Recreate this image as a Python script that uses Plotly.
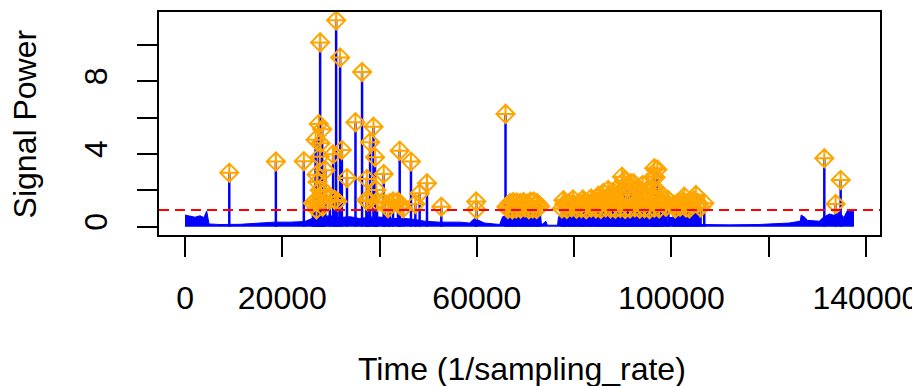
import plotly.graph_objects as go

# ---- baseline envelope of the signal (time, power) ----
base_t = [0, 1030, 2050, 3080, 3900, 4450, 4930, 7190, 11300, 15400, 18500, 21560, 24600,
          26100, 27700, 29800, 31800, 33900, 35900, 39000, 41060, 43100, 45200, 47200, 49300,
          52350, 56500, 58500, 59500, 61600, 63600, 64700, 65300, 68800, 73100, 73300, 74200,
          74500, 76600, 76800, 81100, 85200, 89300, 93400, 96500, 97100, 98300, 99200, 99600,
          102900, 105900, 106100, 111900, 118000, 124200, 126500, 126700, 127500, 127900,
          130400, 131200, 132500, 133700, 134500, 135500, 136100, 137550]
base_v = [0.64, 0.58, 0.52, 0.60, 0.50, 0.86, 0.15, 0.12, 0.13, 0.20, 0.25, 0.25, 0.28,
          0.45, 0.55, 0.60, 0.50, 0.55, 0.45, 0.55, 0.50, 0.45, 0.45, 0.40, 0.30,
          0.25, 0.25, 0.20, 0.45, 0.20, 0.15, 0.12, 0.55, 0.60, 0.50, 0.10, 0.30,
          0.08, 0.08, 0.55, 0.60, 0.65, 0.60, 0.70, 0.60, 0.25, 0.70, 0.15, 0.50,
          0.55, 0.40, 0.12, 0.10, 0.12, 0.20, 0.30, 0.64, 0.50, 0.35,
          0.30, 0.50, 0.70, 0.60, 0.80, 0.50, 0.85, 0.82]

# ---- detected peaks (time, power) ----
peak_t = [9100, 18680, 24430, 27780, 31070, 31890, 36400, 35050, 38750, 38050, 39070,
          44140, 46460, 40850, 37400, 33300, 32250, 30450, 27500, 28200, 26850, 27860,
          27720, 28850, 27050, 27250, 27720, 28740, 29770, 30800, 31350, 27370, 27030,
          28060, 26690, 26300, 28300, 39350, 37560, 39480, 42770, 43790, 41740, 44830,
          44140, 47360, 48240, 49750, 52700, 59880, 59880, 41060, 37300, 42090,
          65900,
          # cluster 1
          66100, 66800, 67500, 68200, 68900, 69600, 70300, 71000, 71700, 72400, 73000,
          66400, 67300, 68100, 69000, 69900, 70700, 71500, 72300,
          # cluster 2
          77500, 78500, 79500, 80500, 81500, 82500, 83500, 84500, 85500, 86500, 87500,
          88500, 89500, 90500, 91500, 92500, 93500, 94500, 95500, 96500, 97500,
          78000, 79000, 80000, 81000, 82000, 83000, 84000, 85000, 86000, 87000, 88000,
          89000, 90000, 91000, 92000, 93000, 94000, 95000, 96000, 97000,
          77800, 79800, 81800, 83500, 85000, 86000, 87000, 88000, 89000, 89860, 90270,
          91000, 91700, 92220, 93000, 94090, 95000, 96000, 96350, 96490, 96760, 97110,
          97500, 97870, 98300, 98900, 99400,
          # cluster 3
          100500, 100800, 101280, 101800, 102300, 102650, 103000, 103200, 103700, 104200,
          104600, 105050, 105500, 106000, 106760,
          # right end
          131450, 134810, 133780]
peak_v = [2.97, 3.58, 3.60, 10.13, 11.34, 9.30, 8.50, 5.74, 5.49, 4.64, 3.82,
          4.18, 3.58, 2.90, 2.62, 2.68, 4.22, 3.98, 5.65, 5.35, 4.78, 4.59,
          3.85, 3.10, 2.85, 2.45, 2.00, 1.93, 1.65, 1.47, 1.38, 1.38, 0.95,
          1.56, 1.38, 1.29, 1.10, 2.02, 1.38, 1.38, 1.38, 1.38, 1.01, 1.01,
          1.19, 1.25, 1.84, 2.39, 1.10, 1.38, 0.95, 1.29, 1.47, 1.29,
          6.20,
          1.10, 1.30, 1.36, 1.33, 1.30, 1.35, 1.28, 1.37, 1.38, 1.30, 1.12,
          0.97, 0.95, 1.00, 0.98, 1.05, 0.96, 1.00, 0.97,
          1.00, 0.97, 1.05, 0.98, 1.02, 0.96, 1.04, 1.00, 0.97, 1.05, 1.00,
          0.98, 1.03, 0.97, 1.00, 1.05, 0.98, 1.02, 0.96, 1.04, 1.00,
          1.25, 1.30, 1.22, 1.28, 1.35, 1.25, 1.32, 1.30, 1.40, 1.35, 1.45,
          1.38, 1.50, 1.42, 1.48, 1.40, 1.52, 1.45, 1.50, 1.40,
          1.45, 1.50, 1.50, 1.55, 1.70, 1.85, 2.02, 1.90, 2.10, 2.75, 2.53,
          2.20, 2.39, 2.39, 2.10, 2.29, 2.00, 2.10, 2.75, 3.21, 2.71, 3.14,
          1.90, 1.65, 1.30, 1.10, 1.45,
          1.20, 1.00, 1.29, 1.10, 1.40, 1.65, 1.05, 1.30, 1.00, 1.20,
          1.45, 1.74, 1.30, 1.05, 1.29,
          3.76, 2.57, 1.25]

threshold = 0.92

x_tickvals = [0, 20000, 40000, 60000, 80000, 100000, 120000, 140000]
x_ticktext = ["0", "20000", "", "60000", "", "100000", "", "140000"]
y_tickvals = [0, 2, 4, 6, 8, 10]
y_ticktext = ["0", "", "4", "", "8", ""]
x_title = "Time (1/sampling_rate)"
y_title = "Signal Power"

# vertical sticks (type = "h") from the peaks
stick_x, stick_y = [], []
for t, v in zip(peak_t, peak_v):
    stick_x += [t, t, None]
    stick_y += [0, v, None]

fig = go.Figure()
fig.add_trace(go.Scatter(x=base_t, y=base_v, mode="lines", fill="tozeroy",
                         line=dict(color="#0000FF", width=1), fillcolor="#0000FF",
                         hoverinfo="skip"))
fig.add_trace(go.Scatter(x=stick_x, y=stick_y, mode="lines",
                         line=dict(color="#0000FF", width=2.5), hoverinfo="skip"))
fig.add_trace(go.Scatter(x=peak_t, y=peak_v, mode="markers",
                         marker=dict(symbol="diamond-cross-open", size=14, color="#FFA500",
                                     line=dict(color="#FFA500", width=2))))
fig.add_hline(y=threshold, line=dict(color="#FF0000", width=2, dash="10px,6px"), layer="above")

font = dict(family="Liberation Sans, Arial, sans-serif", size=32, color="black")
# the page body has an 8px default margin, so the figure is 8px smaller
fig.update_layout(
    width=912, height=378, showlegend=False,
    margin=dict(l=151, r=40, t=4, b=151),
    paper_bgcolor="white", plot_bgcolor="white", font=font,
    xaxis=dict(range=[-5350, 142900], tickvals=x_tickvals, ticktext=x_ticktext,
               ticks="outside", ticklen=20, tickwidth=2, tickcolor="black",
               showline=True, linecolor="black", linewidth=2, mirror=True,
               showgrid=False, zeroline=False, ticklabelstandoff=14, automargin=False),
    yaxis=dict(range=[-0.457, 11.80], tickvals=y_tickvals, ticktext=y_ticktext,
               ticks="outside", ticklen=20, tickwidth=2, tickcolor="black", tickangle=-90,
               showline=True, linecolor="black", linewidth=2, mirror=True,
               showgrid=False, zeroline=False, ticklabelstandoff=17, automargin=False),
    annotations=[
        dict(text=x_title, xref="paper", yref="paper", x=0.503, y=-0.600,
             xanchor="center", yanchor="middle", showarrow=False, font=font),
        dict(text=y_title, xref="paper", yref="paper", x=-0.186, y=0.5, textangle=-90,
             xanchor="center", yanchor="middle", showarrow=False, font=font),
    ],
)
fig.write_html("out.html")
